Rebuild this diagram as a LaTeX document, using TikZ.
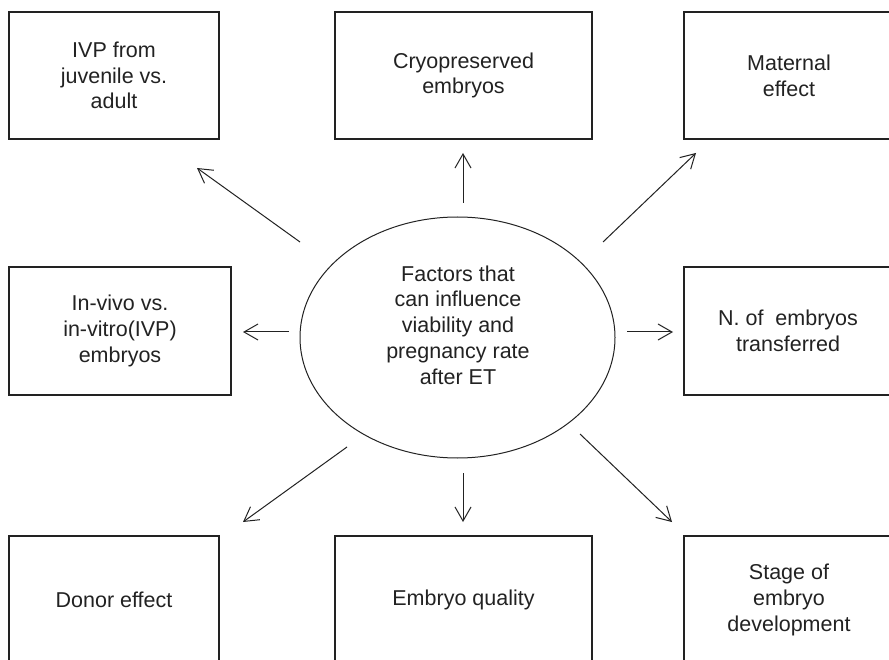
\documentclass[tikz,border=0pt]{standalone}
\usepackage{fontspec}
\setmainfont{Liberation Sans}
\usetikzlibrary{shapes.geometric,arrows.meta}
\definecolor{ink}{HTML}{222222}
\tikzset{
  fbox/.style={draw=ink, line width=1.5pt, rectangle, inner sep=0pt, align=center,
    text=ink, font=\fontsize{21.5}{25.7}\selectfont},
  oval/.style={draw=ink, line width=1pt, ellipse, inner sep=0pt,
    minimum width=315pt, minimum height=241pt},
  ctext/.style={align=center, text=ink, font=\fontsize{21.5}{25.7}\selectfont, inner sep=0pt},
  arr/.style={draw=ink, line width=1pt, -{Straight Barb[length=14pt,width=16pt,line width=1pt]}}
}
\begin{document}
\begin{tikzpicture}[x=1pt,y=-1pt]
\useasboundingbox (0,0) rectangle (889,660);
\clip (0,0) rectangle (889,660);
\fill[white] (0,0) rectangle (889,660);
% boxes
\node[fbox, minimum width=210pt, minimum height=127pt] (tl) at (114,75.5) {IVP from\\juvenile vs.\\adult};
\node[fbox, minimum width=257pt, minimum height=127pt] (tm) at (463.5,75.5) {Cryopreserved\\embryos};
\node[fbox, minimum width=210pt, minimum height=127pt] (tr) at (789,75.5) {Maternal\\effect};
\node[fbox, minimum width=222pt, minimum height=128pt] (ml) at (120,331) {In-vivo vs.\\in-vitro(IVP)\\embryos};
\node[fbox, minimum width=208pt, minimum height=128pt] (mr) at (788,331) {N. of\ \ embryos\\transferred};
\node[fbox, minimum width=210pt, minimum height=128pt] (bl) at (114,600) {Donor effect};
\node[fbox, minimum width=257pt, minimum height=128pt] (bm) at (463.5,600) {Embryo quality};
\node[fbox, minimum width=210pt, minimum height=128pt] (br) at (789,600) {Stage of\\embryo\\development};
% central ellipse
\node[oval] (c) at (457.5,337.5) {};
\node[ctext] (ct) at (458,325) {Factors that\\can influence\\viability and\\pregnancy rate\\after ET};
% arrow end points
\coordinate (a1s) at (300,242); \coordinate (a1e) at (197,168);
\coordinate (a2s) at (463,203); \coordinate (a2e) at (463,153);
\coordinate (a3s) at (603,242); \coordinate (a3e) at (696,153);
\coordinate (a4s) at (289,332); \coordinate (a4e) at (243,332);
\coordinate (a5s) at (627,332); \coordinate (a5e) at (673,332);
\coordinate (a6s) at (347,447); \coordinate (a6e) at (243,522);
\coordinate (a7s) at (463,473); \coordinate (a7e) at (463,522);
\coordinate (a8s) at (580,434); \coordinate (a8e) at (672,522);
\draw[arr] (a1s) -- (a1e);
\draw[arr] (a2s) -- (a2e);
\draw[arr] (a3s) -- (a3e);
\draw[arr] (a4s) -- (a4e);
\draw[arr] (a5s) -- (a5e);
\draw[arr] (a6s) -- (a6e);
\draw[arr] (a7s) -- (a7e);
\draw[arr] (a8s) -- (a8e);
\end{tikzpicture}
\end{document}
